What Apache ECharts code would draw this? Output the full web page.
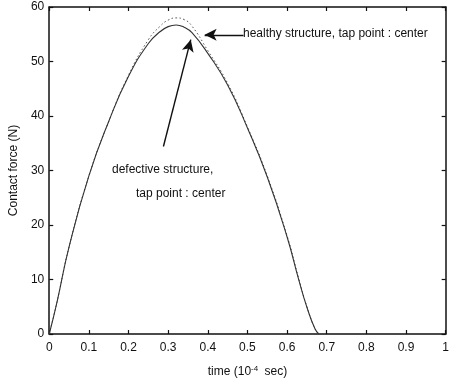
<!DOCTYPE html>
<html>
<head>
<meta charset="utf-8">
<script src="https://cdn.jsdelivr.net/npm/echarts@6/dist/echarts.min.js"></script>
<style>
  html, body { margin: 0; padding: 0; background: #fff; }
  #chart { width: 452px; height: 383px; }
</style>
</head>
<body>
<div id="chart"></div>
<script>
const times = [0, 0.02, 0.05, 0.1, 0.15, 0.2, 0.25, 0.28, 0.3, 0.32, 0.34, 0.36, 0.4, 0.45, 0.5, 0.55, 0.6, 0.63, 0.65, 0.67, 0.68];
const healthy = [0, 6, 16, 29, 39, 47.5, 54, 56.5, 57.6, 58, 57.7, 56.5, 52, 46, 38, 29, 18, 10, 5, 1, 0];
const defective = [0, 6, 16, 29, 39, 47.3, 53.3, 55.5, 56.4, 56.7, 56.3, 55.3, 51.5, 45.7, 37.8, 28.8, 17.8, 9.8, 4.9, 1, 0];
const arrowHealthy = [[0.49, 54.9], [0.392, 54.9]];
const arrowDefective = [[0.288, 34.4], [0.357, 54]];

const font = "Liberation Sans, Arial, sans-serif";
const pairs = (xs, ys) => xs.map((x, i) => [x, ys[i]]);

const axisBase = {
  type: "value",
  axisLine: { show: true, onZero: false, lineStyle: { color: "#111", width: 1.5 } },
  axisTick: { show: true, inside: true, length: 4, lineStyle: { color: "#111", width: 1.2 } },
  splitLine: { show: false },
};

const chart = echarts.init(document.getElementById("chart"));
chart.setOption({
  animation: false,
  backgroundColor: "#fff",
  grid: { left: 41, right: 5, top: 7, bottom: 48 },
  xAxis: [
    { ...axisBase, min: 0, max: 1, interval: 0.1, position: "bottom",
      name: "time (10{sup|-4} sec)", nameLocation: "middle", nameGap: 31,
      nameTextStyle: { color: "#111", fontFamily: font, fontSize: 12,
        rich: { sup: { fontSize: 8, verticalAlign: "top", padding: [0, 3, 6, 0], fontFamily: font, color: "#111" } } },
      axisLabel: { color: "#111", fontFamily: font, fontSize: 12, margin: 8 } },
    { ...axisBase, min: 0, max: 1, interval: 0.1, position: "top", axisLabel: { show: false } },
  ],
  yAxis: [
    { ...axisBase, min: 0, max: 60, interval: 10, position: "left",
      name: "Contact force (N)", nameLocation: "middle", nameGap: 26,
      nameTextStyle: { color: "#111", fontFamily: font, fontSize: 12 },
      axisLabel: { color: "#111", fontFamily: font, fontSize: 12, margin: 5 } },
    { ...axisBase, min: 0, max: 60, interval: 10, position: "right", axisLabel: { show: false } },
  ],
  series: [
    {
      name: "healthy", type: "line", data: pairs(times, healthy), smooth: true, symbol: "none",
      lineStyle: { color: "#555", width: 1, type: [1.5, 2.5] },
    },
    {
      name: "defective", type: "line", data: pairs(times, defective), smooth: true, symbol: "none",
      lineStyle: { color: "#333", width: 1.1 },
      markLine: {
        silent: true, symbol: ["none", "arrow"], symbolSize: [9, 12],
        lineStyle: { color: "#111", width: 1.4, type: "solid" }, label: { show: false },
        data: [
          [{ coord: arrowHealthy[0] }, { coord: arrowHealthy[1] }],
          [{ coord: arrowDefective[0] }, { coord: arrowDefective[1] }],
        ],
      },
    },
  ],
  graphic: [
    { type: "text", left: 243, top: 28, style: { text: "healthy structure, tap point : center", fill: "#111", font: "12px " + font } },
    { type: "text", left: 112, top: 164, style: { text: "defective structure,", fill: "#111", font: "12px " + font } },
    { type: "text", left: 136, top: 188, style: { text: "tap point : center", fill: "#111", font: "12px " + font } },
  ],
});
</script>
</body>
</html>
